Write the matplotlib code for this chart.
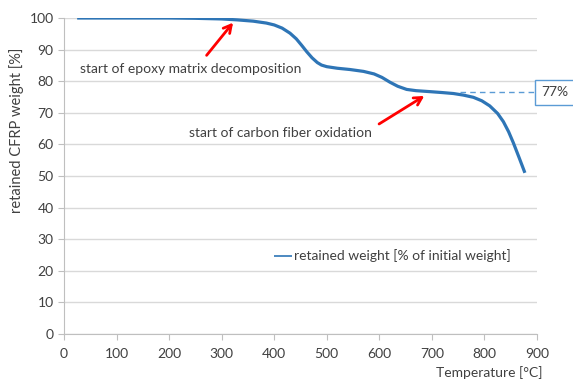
import matplotlib
matplotlib.use("Agg")
import matplotlib.pyplot as plt
import numpy as np

temperature = [25, 100, 200, 250, 300, 330, 360, 385, 400, 415, 430, 442, 452, 462, 472, 482,
               490, 500, 520, 544, 570, 590, 605, 620, 635, 652, 670, 696, 720, 741, 760,
               779, 795, 810, 825, 836, 846, 855, 866, 877]
weight = [100, 100, 100, 99.9, 99.7, 99.4, 99.0, 98.4, 97.8, 96.8, 95.2, 93.4, 91.4, 89.3, 87.4,
          85.9, 85.1, 84.6, 84.1, 83.7, 83.1, 82.3, 81.2, 79.7, 78.4, 77.4, 77.0, 76.7, 76.4,
          76.1, 75.6, 74.9, 73.8, 72.2, 69.8, 67.2, 64.0, 60.5, 55.8, 51.0]
x_ticks = [0, 100, 200, 300, 400, 500, 600, 700, 800, 900]
y_ticks = [0, 10, 20, 30, 40, 50, 60, 70, 80, 90, 100]
residual_level = 76.5
residual_label = "77%"

plt.rcParams['font.family'] = ['Lato', 'DejaVu Sans']
txt = '#404040'
grid_c = '#D9D9D9'
blue = '#2E75B6'
fs = 10

fig = plt.figure(figsize=(5.73, 3.81), dpi=100)
ax = fig.add_axes([64/573, 1-334/381, (537-64)/573, (334-18)/381])
ax.set_xlim(0, 900)
ax.set_ylim(0, 100)
ax.set_xticks(x_ticks)
ax.set_yticks(y_ticks)
ax.tick_params(axis='both', colors='#BFBFBF', labelcolor=txt, labelsize=fs, length=4, width=0.8)
ax.tick_params(axis='x', pad=6)
for s in ['top', 'right']:
    ax.spines[s].set_visible(False)
for s in ['left', 'bottom']:
    ax.spines[s].set_color('#BFBFBF')
    ax.spines[s].set_linewidth(0.8)
ax.yaxis.grid(True, color=grid_c, lw=1)
ax.set_axisbelow(True)

ax.plot(temperature, weight, color=blue, lw=2.3, label='retained weight [% of initial weight]',
        solid_capstyle='butt')

# dashed residual line + box
ax.plot([753, 900], [residual_level, residual_level], color='#5B9BD5', lw=1, ls=(0, (4, 3)),
        clip_on=False)
ax.text(908, residual_level, residual_label, ha='left', va='center', fontsize=fs, color=txt,
        bbox=dict(boxstyle='square,pad=0.45', fc='white', ec='#5B9BD5', lw=1), clip_on=False)

# annotations
ax.annotate('', xy=(325, 99.2), xytext=(268, 87.5),
            arrowprops=dict(arrowstyle='->,head_length=0.55,head_width=0.3', color='red', lw=2))
ax.text(30, 84.0, 'start of epoxy matrix decomposition', fontsize=fs, color=txt, va='center')
ax.annotate('', xy=(690, 75.8), xytext=(595, 66.0),
            arrowprops=dict(arrowstyle='->,head_length=0.55,head_width=0.3', color='red', lw=2))
ax.text(238, 63.5, 'start of carbon fiber oxidation', fontsize=fs, color=txt, va='center')

ax.set_ylabel('retained CFRP weight [%]', fontsize=10.5, color=txt)
ax.yaxis.set_label_coords(-(64-24)/473, (334-130)/316)
ax.set_xlabel('Temperature [°C]', fontsize=fs, color=txt)
ax.xaxis.set_label_coords((543-64)/473, -(373-334)/316)
ax.xaxis.label.set_ha('right')
ax.xaxis.label.set_va('center')

leg = ax.legend(loc='center left', bbox_to_anchor=((268-64)/473, (334-256)/316), frameon=False,
                fontsize=fs, handlelength=1.3, handletextpad=0.15, borderaxespad=0)
for t in leg.get_texts():
    t.set_color(txt)
for l in leg.get_lines():
    l.set_linewidth(1.2)

fig.savefig('out.png', dpi=100)
